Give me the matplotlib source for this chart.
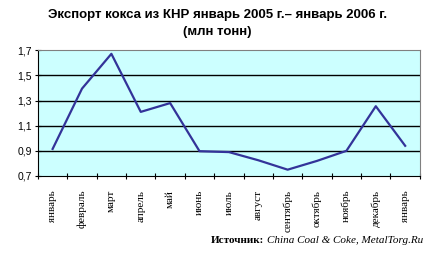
import matplotlib.pyplot as plt
import matplotlib as mpl
import numpy as np

months = ['январь', 'февраль', 'март', 'апрель', 'май', 'июнь', 'июль',
          'август', 'сентябрь', 'октябрь', 'ноябрь', 'декабрь', 'январь']
export_mt = [0.915, 1.395, 1.672, 1.21, 1.28, 0.897, 0.89,
             0.825, 0.75, 0.82, 0.90, 1.255, 0.94]
yticks = [0.7, 0.9, 1.1, 1.3, 1.5, 1.7]


def main():
    mpl.rcParams['font.family'] = ['Liberation Sans', 'DejaVu Sans']
    fig = plt.figure(figsize=(4.36, 2.58), dpi=100)
    ax = fig.add_axes([0.087, 0.318, 0.876, 0.487])

    ax.set_facecolor('#ccffff')
    x = np.arange(len(months))
    ax.plot(x, export_mt, color='#333399', lw=1.6, zorder=3)

    ax.set_xlim(-0.5, len(months) - 0.5)
    ax.set_ylim(0.7, 1.7)
    ax.set_yticks(yticks)
    ax.set_yticklabels([f'{v:.1f}'.replace('.', ',') for v in yticks], fontsize=7.5)
    for v in yticks[1:-1]:
        ax.axhline(v, color='black', lw=1, zorder=2)

    ax.set_xticks(np.arange(len(months) + 1) - 0.5)
    ax.set_xticklabels([])
    ax.set_xticks(x, minor=True)
    ax.set_xticklabels(months, minor=True, rotation=90, fontsize=8,
                       family='Liberation Serif', va='top')
    ax.tick_params(axis='x', which='minor', length=0, pad=10)
    ax.tick_params(axis='x', which='major', direction='inout', length=5, width=0.8)
    ax.tick_params(axis='y', direction='inout', length=5, width=0.8, pad=2)

    ax.spines['top'].set_color('#808080')
    ax.spines['right'].set_color('#808080')
    ax.spines['left'].set_color('black')
    ax.spines['bottom'].set_color('black')

    fig.text(0.498, 0.94, 'Экспорт кокса из КНР январь 2005 г.– январь 2006 г.',
             ha='center', va='center', fontsize=9.5, fontweight='bold')
    fig.text(0.498, 0.875, '(млн тонн)', ha='center', va='center',
             fontsize=9.5, fontweight='bold')

    src = fig.text(0.97, 0.068, 'China Coal & Coke, MetalTorg.Ru', ha='right',
                   va='center', fontsize=8, style='italic', family='Liberation Serif')
    fig.canvas.draw()
    bb = src.get_window_extent()
    x0 = bb.x0 / fig.bbox.width - 0.007
    fig.text(x0, 0.068, 'Источник:', ha='right', va='center', fontsize=8,
             fontweight='bold', family='Liberation Serif')

    fig.savefig('out.png', dpi=100)


main()
